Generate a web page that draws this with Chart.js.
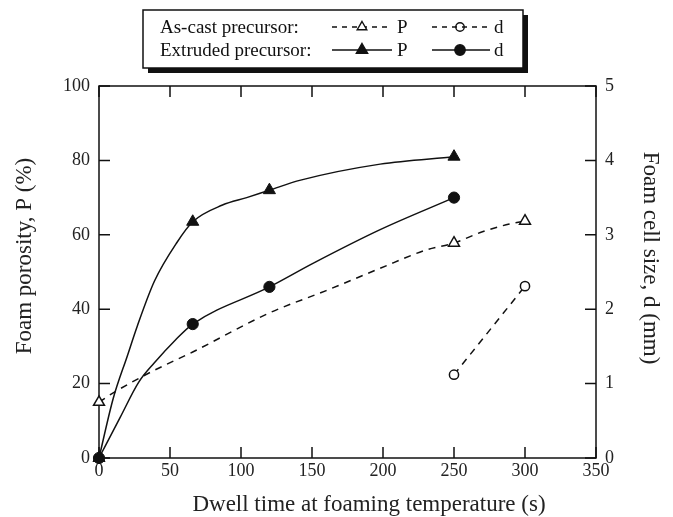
<!DOCTYPE html>
<html lang="en">
<head>
<meta charset="UTF-8">
<title>Foam porosity and cell size vs dwell time</title>
<script src="https://cdn.jsdelivr.net/npm/chart.js"></script>
<style>
  html, body { margin: 0; padding: 0; background: #fff; }
</style>
</head>
<body>
<canvas id="chart" width="673" height="517"></canvas>
<script>
// values (time in s)
const castPTime    = [0, 10, 36, 66, 120, 160, 198, 231, 250, 270, 289, 300];
const castP        = [15, 17.5, 23, 28.5, 39, 45, 51, 56, 57.8, 60.8, 62.9, 63.7];
const castPMarks   = [0, 250, 300];

const castDTime    = [250, 300];
const castD        = [1.12, 2.31];
const castDMarks   = [250, 300];

const extPTime     = [0, 10, 20, 27, 39, 55, 66, 87, 104, 120, 142, 198, 250];
const extP         = [0, 16, 27.5, 35.5, 47.5, 58, 63.5, 68, 70, 72, 74.7, 79, 81];
const extPMarks    = [0, 66, 120, 250];

const extDTime     = [0, 15, 28, 39, 54, 66, 120, 151, 198, 250];
const extD         = [0, 0.55, 1.02, 1.28, 1.59, 1.8, 2.3, 2.62, 3.07, 3.5];
const extDMarks    = [0, 66, 120, 250];

const timeTicks = [0, 50, 100, 150, 200, 250, 300, 350];
const pTicks    = [0, 20, 40, 60, 80, 100];
const dTicks    = [0, 1, 2, 3, 4, 5];

const serif = '"Liberation Serif", "DejaVu Serif", serif';

function pts(xs, ys) {
  return xs.map((x, i) => ({ x: x, y: ys[i] }));
}
function radii(xs, marks, r) {
  return xs.map(x => marks.includes(x) ? r : 0);
}
function setTicks(values) {
  return scale => { scale.ticks = values.map(v => ({ value: v })); };
}

// box, inward ticks on all four sides
const frameTicks = {
  id: 'frameTicks',
  beforeDatasetsDraw(chart) {
    const { ctx, chartArea: a, scales } = chart;
    const len = 11;
    ctx.save();
    ctx.strokeStyle = '#111';
    ctx.lineWidth = 1.5;
    ctx.strokeRect(a.left, a.top, a.right - a.left, a.bottom - a.top);
    ctx.beginPath();
    scales.x.ticks.forEach(t => {
      const px = scales.x.getPixelForValue(t.value);
      ctx.moveTo(px, a.bottom); ctx.lineTo(px, a.bottom - len);
      ctx.moveTo(px, a.top); ctx.lineTo(px, a.top + len);
    });
    scales.y.ticks.forEach(t => {
      const py = scales.y.getPixelForValue(t.value);
      ctx.moveTo(a.left, py); ctx.lineTo(a.left + len, py);
    });
    scales.y2.ticks.forEach(t => {
      const py = scales.y2.getPixelForValue(t.value);
      ctx.moveTo(a.right, py); ctx.lineTo(a.right - len, py);
    });
    ctx.stroke();
    ctx.restore();
  }
};

// axis titles placed where the original has them (taken from the scale options)
const axisTitles = {
  id: 'axisTitles',
  afterDraw(chart) {
    const ctx = chart.ctx;
    const sc = chart.options.scales;
    ctx.save();
    ctx.font = '23px ' + serif;
    ctx.fillStyle = '#222';
    ctx.textAlign = 'center';
    ctx.textBaseline = 'middle';
    ctx.fillText(sc.x.title.text, 369, 505);
    ctx.translate(25, 256);
    ctx.rotate(-Math.PI / 2);
    ctx.fillText(sc.y.title.text, 0, 0);
    ctx.setTransform(1, 0, 0, 1, 0, 0);
    ctx.translate(650, 258);
    ctx.rotate(Math.PI / 2);
    ctx.fillText(sc.y2.title.text, 0, 0);
    ctx.restore();
  }
};

// boxed legend with drop shadow above the plot
const boxLegend = {
  id: 'boxLegend',
  afterDraw(chart) {
    const ctx = chart.ctx;
    const lx = 143, ly = 10, lw = 380, lh = 58;
    ctx.save();
    ctx.fillStyle = '#111';
    ctx.fillRect(lx + 5, ly + 5, lw, lh);
    ctx.fillStyle = '#fff';
    ctx.fillRect(lx, ly, lw, lh);
    ctx.strokeStyle = '#111';
    ctx.lineWidth = 1.5;
    ctx.strokeRect(lx, ly, lw, lh);

    ctx.font = '19px ' + serif;
    ctx.fillStyle = '#111';
    ctx.textBaseline = 'alphabetic';
    ctx.fillText('As-cast precursor:', 160, 33);
    ctx.fillText('Extruded precursor:', 160, 56);

    const rows = [
      { y: 27, dash: [5, 5], open: true },
      { y: 50, dash: [], open: false }
    ];
    rows.forEach(r => {
      [[332, 392, 362, 'tri', 'P', 397], [432, 490, 460, 'dot', 'd', 494]].forEach(e => {
        ctx.setLineDash(r.dash);
        ctx.lineWidth = 1.3;
        ctx.beginPath();
        ctx.moveTo(e[0], r.y); ctx.lineTo(e[1], r.y);
        ctx.stroke();
        ctx.setLineDash([]);
        ctx.beginPath();
        if (e[3] === 'tri') {
          const s = r.open ? 5.5 : 6.5;
          ctx.moveTo(e[2], r.y - s);
          ctx.lineTo(e[2] + s * 0.87, r.y + s * 0.5);
          ctx.lineTo(e[2] - s * 0.87, r.y + s * 0.5);
          ctx.closePath();
          ctx.fillStyle = r.open ? '#fff' : '#111';
          ctx.fill();
        } else {
          ctx.arc(e[2], r.y, r.open ? 4.2 : 5.2, 0, Math.PI * 2);
          if (!r.open) { ctx.fillStyle = '#111'; ctx.fill(); }
        }
        ctx.lineWidth = 1.4;
        ctx.stroke();
        ctx.fillStyle = '#111';
        ctx.fillText(e[4], e[5], r.y + 6);
      });
    });
    ctx.restore();
  }
};

const tickFont = { family: serif, size: 18 };

new Chart(document.getElementById('chart'), {
  type: 'line',
  data: {
    datasets: [
      {
        label: 'As-cast P',
        data: pts(castPTime, castP),
        yAxisID: 'y',
        borderColor: '#111',
        borderWidth: 1.5,
        borderDash: [7, 6],
        cubicInterpolationMode: 'monotone',
        pointStyle: 'triangle',
        pointRadius: radii(castPTime, castPMarks, 6.3),
        pointBackgroundColor: '#fff',
        pointBorderColor: '#111',
        pointBorderWidth: 1.5,
        clip: false
      },
      {
        label: 'As-cast d',
        data: pts(castDTime, castD),
        yAxisID: 'y2',
        borderColor: '#111',
        borderWidth: 1.5,
        borderDash: [7, 6],
        pointStyle: 'circle',
        pointRadius: radii(castDTime, castDMarks, 4.6),
        pointBackgroundColor: '#fff',
        pointBorderColor: '#111',
        pointBorderWidth: 1.5,
        clip: false
      },
      {
        label: 'Extruded P',
        data: pts(extPTime, extP),
        yAxisID: 'y',
        borderColor: '#111',
        borderWidth: 1.5,
        cubicInterpolationMode: 'monotone',
        pointStyle: 'triangle',
        pointRadius: radii(extPTime, extPMarks, 7),
        pointBackgroundColor: '#111',
        pointBorderColor: '#111',
        pointBorderWidth: 1,
        clip: false
      },
      {
        label: 'Extruded d',
        data: pts(extDTime, extD),
        yAxisID: 'y2',
        borderColor: '#111',
        borderWidth: 1.5,
        cubicInterpolationMode: 'monotone',
        pointStyle: 'circle',
        pointRadius: radii(extDTime, extDMarks, 5.6),
        pointBackgroundColor: '#111',
        pointBorderColor: '#111',
        pointBorderWidth: 1,
        clip: false
      }
    ]
  },
  options: {
    responsive: false,
    animation: false,
    layout: { padding: { top: 86, left: 0, right: 0, bottom: 0 } },
    plugins: {
      legend: { display: false },
      tooltip: { enabled: false }
    },
    scales: {
      x: {
        type: 'linear',
        min: 0, max: 350,
        afterBuildTicks: setTicks(timeTicks),
        afterFit: s => { s.height = 59; },
        grid: { display: false, drawTicks: false },
        border: { display: false },
        ticks: { font: tickFont, color: '#222', padding: 2, maxRotation: 0 },
        title: { display: false, text: 'Dwell time at foaming temperature (s)' }
      },
      y: {
        position: 'left',
        min: 0, max: 100,
        afterBuildTicks: setTicks(pTicks),
        afterFit: s => { s.width = 99; },
        grid: { display: false, drawTicks: false },
        border: { display: false },
        ticks: { font: tickFont, color: '#222', padding: 9 },
        title: { display: false, text: 'Foam porosity, P (%)' }
      },
      y2: {
        position: 'right',
        min: 0, max: 5,
        afterBuildTicks: setTicks(dTicks),
        afterFit: s => { s.width = 77; },
        grid: { display: false, drawTicks: false },
        border: { display: false },
        ticks: { font: tickFont, color: '#222', padding: 9 },
        title: { display: false, text: 'Foam cell size, d (mm)' }
      }
    }
  },
  plugins: [frameTicks, axisTitles, boxLegend]
});
</script>
</body>
</html>
